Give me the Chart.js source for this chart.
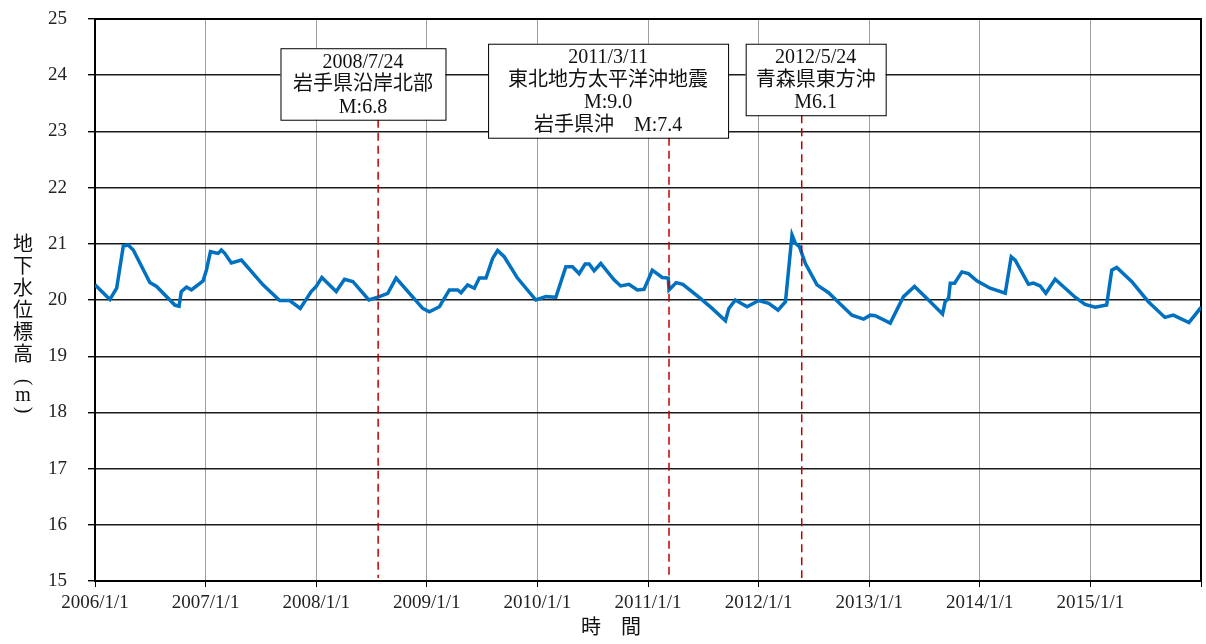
<!DOCTYPE html>
<html lang="ja">
<head>
<meta charset="utf-8">
<title>地下水位標高</title>
<script src="https://cdn.jsdelivr.net/npm/chart.js@4/dist/chart.umd.min.js"></script>
<style>
  html, body { margin: 0; padding: 0; background: #fff; }
  canvas { display: block; }
</style>
</head>
<body>
<canvas id="gw-chart" width="1206" height="644"></canvas>
<script>
// time as decimal year, level in m
const times = [
    2006.000, 2006.135, 2006.196, 2006.256, 2006.300, 2006.346, 2006.496, 2006.557, 2006.722, 2006.760,
    2006.780, 2006.827, 2006.872, 2006.977, 2007.007, 2007.044, 2007.113, 2007.143, 2007.173, 2007.233,
    2007.324, 2007.519, 2007.670, 2007.760, 2007.856, 2007.955, 2008.000, 2008.051, 2008.181, 2008.256,
    2008.331, 2008.476, 2008.572, 2008.647, 2008.722, 2008.963, 2009.023, 2009.114, 2009.204, 2009.279,
    2009.310, 2009.369, 2009.430, 2009.475, 2009.535, 2009.595, 2009.640, 2009.700, 2009.820, 2009.986,
    2010.077, 2010.167, 2010.257, 2010.317, 2010.377, 2010.432, 2010.468, 2010.513, 2010.573, 2010.693,
    2010.753, 2010.828, 2010.903, 2010.964, 2011.039, 2011.129, 2011.183, 2011.190, 2011.255, 2011.315,
    2011.460, 2011.580, 2011.700, 2011.731, 2011.790, 2011.896, 2012.000, 2012.092, 2012.176, 2012.243,
    2012.302, 2012.332, 2012.369, 2012.423, 2012.528, 2012.633, 2012.717, 2012.844, 2012.950, 2013.010,
    2013.055, 2013.190, 2013.310, 2013.410, 2013.536, 2013.663, 2013.687, 2013.718, 2013.733, 2013.772,
    2013.838, 2013.897, 2013.973, 2014.094, 2014.230, 2014.284, 2014.320, 2014.440, 2014.485, 2014.546,
    2014.597, 2014.681, 2014.862, 2014.952, 2015.043, 2015.147, 2015.193, 2015.238, 2015.373, 2015.524,
    2015.674, 2015.750, 2015.891, 2015.945, 2016.000
];
const levels = [
    20.27, 20.01, 20.21, 20.96, 20.98, 20.89, 20.31, 20.24, 19.91, 19.89,
    20.15, 20.23, 20.18, 20.34, 20.53, 20.86, 20.83, 20.89, 20.83, 20.66,
    20.71, 20.27, 19.99, 19.99, 19.85, 20.15, 20.24, 20.40, 20.15, 20.37,
    20.33, 20.00, 20.06, 20.12, 20.39, 19.85, 19.79, 19.88, 20.18, 20.18,
    20.13, 20.27, 20.21, 20.39, 20.39, 20.74, 20.88, 20.77, 20.39, 20.00,
    20.06, 20.05, 20.59, 20.59, 20.47, 20.64, 20.64, 20.52, 20.65, 20.36,
    20.25, 20.28, 20.18, 20.19, 20.53, 20.40, 20.39, 20.18, 20.31, 20.28,
    20.05, 19.85, 19.63, 19.85, 20.00, 19.88, 19.99, 19.94, 19.82, 19.97,
    21.16, 21.01, 20.95, 20.65, 20.27, 20.13, 19.97, 19.73, 19.66, 19.73,
    19.72, 19.59, 20.06, 20.24, 20.00, 19.75, 19.97, 20.03, 20.30, 20.30,
    20.50, 20.47, 20.34, 20.21, 20.12, 20.77, 20.71, 20.28, 20.30, 20.25,
    20.12, 20.37, 20.05, 19.92, 19.87, 19.91, 20.53, 20.58, 20.33, 19.97,
    19.69, 19.73, 19.60, 19.73, 19.87
];

// earthquakes
const eventDates = [2008.56, 2011.19, 2012.39];
const eventLabels = [
    ['2008/7/24', '岩手県沿岸北部', 'M:6.8'],
    ['2011/3/11', '東北地方太平洋沖地震', 'M:9.0', '岩手県沖　M:7.4'],
    ['2012/5/24', '青森県東方沖', 'M6.1']
];

// axis ticks
const yearTicks = [2006, 2007, 2008, 2009, 2010, 2011, 2012, 2013, 2014, 2015];
const levelMin = 15;
const levelMax = 25;

const serif = "'Liberation Serif', 'Noto Sans CJK JP', serif";

// label boxes: centre x (year), top (m), width (px)
const boxes = [
    { x: 2008.423, top: 24.48, width: 165 },
    { x: 2010.639, top: 24.56, width: 240 },
    { x: 2012.516, top: 24.56, width: 140 }
];

const framePlugin = {
    id: 'frame',
    beforeDatasetsDraw(chart) {
        const { ctx, chartArea: a } = chart;
        ctx.save();
        ctx.strokeStyle = '#000';
        ctx.lineWidth = 2;
        ctx.beginPath();
        ctx.moveTo(a.left, a.top);
        ctx.lineTo(a.right, a.top);
        ctx.lineTo(a.right, a.bottom);
        ctx.stroke();
        ctx.restore();
    }
};

const eventPlugin = {
    id: 'events',
    afterDatasetsDraw(chart) {
        const { ctx, chartArea: a, scales } = chart;
        const lineH = 22.5;
        ctx.save();
        eventDates.forEach((d, i) => {
            const b = boxes[i];
            const lines = eventLabels[i];
            const cx = scales.x.getPixelForValue(b.x);
            const top = scales.y.getPixelForValue(b.top);
            const h = lines.length * lineH + 4;
            const lx = scales.x.getPixelForValue(d);

            // dashed marker line
            ctx.strokeStyle = '#c00000';
            ctx.lineWidth = 1.5;
            ctx.setLineDash([8, 5]);
            ctx.beginPath();
            ctx.moveTo(lx, top + h);
            ctx.lineTo(lx, a.bottom - 3);
            ctx.stroke();
            ctx.setLineDash([]);

            // box
            ctx.fillStyle = '#fff';
            ctx.fillRect(cx - b.width / 2, top, b.width, h);
            ctx.strokeStyle = '#000';
            ctx.lineWidth = 1;
            ctx.strokeRect(cx - b.width / 2 + 0.5, top + 0.5, b.width, h);

            ctx.fillStyle = '#111';
            ctx.font = '20px ' + serif;
            ctx.textAlign = 'center';
            ctx.textBaseline = 'middle';
            lines.forEach((t, j) => {
                ctx.fillText(t, cx, top + 2 + lineH * (j + 0.5) + 1);
            });
        });
        ctx.restore();
    },
    afterDraw(chart) {
        const { ctx } = chart;
        ctx.save();
        ctx.fillStyle = '#111';
        ctx.textAlign = 'center';
        ctx.textBaseline = 'middle';
        ctx.font = '20px ' + serif;
        // vertical y title, brackets turned for vertical writing
        const chars = ['地', '下', '水', '位', '標', '高', '(', 'm', ')'];
        const ys = [246, 268, 290, 312, 334, 356, 382, 396, 410];
        chars.forEach((c, i) => {
            if (c === '(' || c === ')') {
                ctx.save();
                ctx.translate(23, ys[i]);
                ctx.rotate(Math.PI / 2);
                ctx.fillText(c, 0, 0);
                ctx.restore();
            } else {
                ctx.fillText(c, 23, ys[i]);
            }
        });
        // x title
        ctx.fillText('時　間', 611, 629);
        ctx.restore();
    }
};

const gwChart = new Chart(document.getElementById('gw-chart'), {
    type: 'line',
    data: {
        datasets: [{
            label: '地下水位標高',
            data: times.map((t, i) => ({ x: t, y: levels[i] })),
            borderColor: '#0070c0',
            borderWidth: 3.5,
            pointRadius: 0,
            tension: 0,
            fill: false
        }]
    },
    options: {
        responsive: false,
        animation: false,
        layout: { padding: { top: 19, right: 3, left: 0, bottom: 0 } },
        scales: {
            x: {
                type: 'linear',
                min: yearTicks[0],
                max: yearTicks[yearTicks.length - 1] + 1,
                afterBuildTicks: s => {
                    s.ticks = yearTicks.concat([yearTicks[yearTicks.length - 1] + 1]).map(v => ({ value: v }));
                },
                ticks: {
                    autoSkip: false,
                    maxRotation: 0,
                    padding: 5,
                    color: '#222',
                    font: { family: serif, size: 19 },
                    callback: v => yearTicks.includes(v) ? v + '/1/1' : ''
                },
                grid: { color: '#a0a0a0', lineWidth: 1, tickColor: '#000', tickLength: 6 },
                border: { color: '#000', width: 2 },
                afterFit: s => { s.height = 63; }
            },
            y: {
                min: levelMin,
                max: levelMax,
                ticks: {
                    stepSize: 1,
                    padding: 21,
                    color: '#222',
                    font: { family: serif, size: 19 }
                },
                grid: { color: '#1a1a1a', lineWidth: 1.4, tickColor: '#000', tickLength: 7 },
                border: { color: '#000', width: 2 },
                afterFit: s => {
                    s.width = 95;
                    s.paddingTop = 0;
                    s.paddingBottom = 0;
                }
            }
        },
        plugins: {
            legend: { display: false },
            tooltip: { enabled: false }
        }
    },
    plugins: [framePlugin, eventPlugin]
});
</script>
</body>
</html>
